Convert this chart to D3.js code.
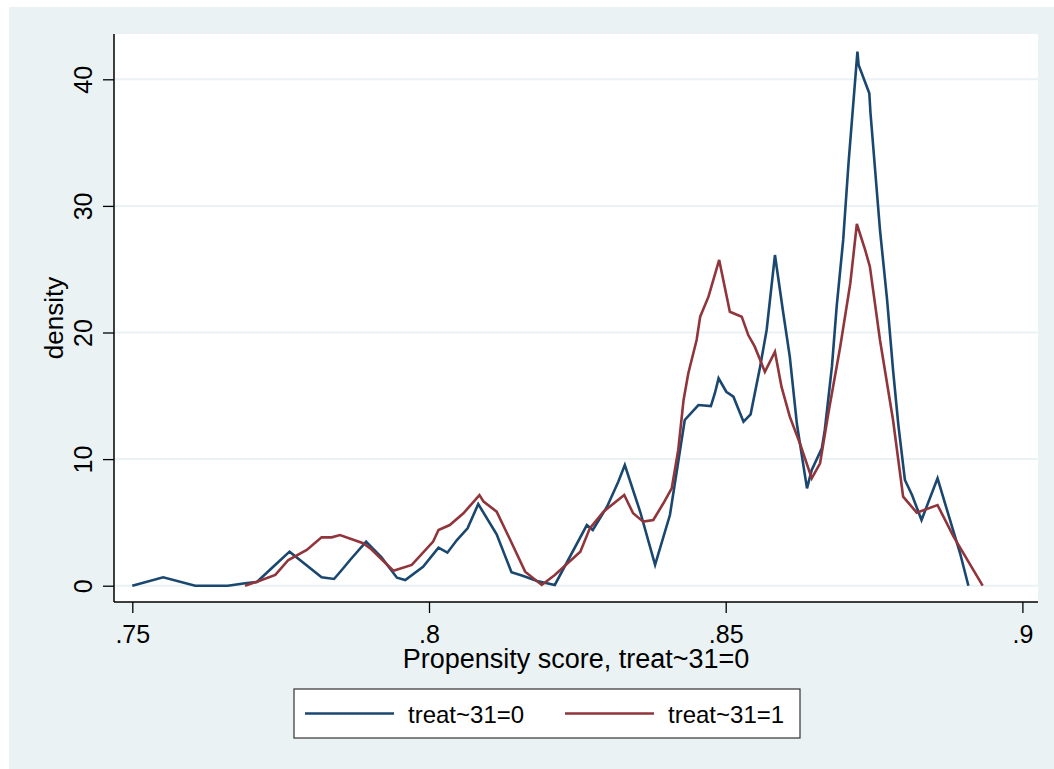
<!DOCTYPE html>
<html>
<head>
<meta charset="utf-8">
<script src="https://cdn.jsdelivr.net/npm/d3@7"></script>
<style>
body { margin: 0; background: #ffffff; }
svg { display: block; font-family: "Liberation Sans", Arial, sans-serif; }
</style>
</head>
<body>
<script>
// data: kernel density of the propensity score
var controlScore = [0.7500, 0.7552, 0.7606, 0.7661, 0.7690, 0.7710, 0.7737, 0.7765, 0.7819, 0.7840,
  0.7853, 0.7867, 0.7894, 0.7920, 0.7946, 0.7960, 0.7990, 0.8016, 0.8031, 0.8047,
  0.8065, 0.8083, 0.8114, 0.8139, 0.8159, 0.8182, 0.8212, 0.8266, 0.8276, 0.8300,
  0.8319, 0.8330, 0.8356, 0.8381, 0.8406, 0.8431, 0.8454, 0.8475, 0.8482, 0.8488,
  0.8501, 0.8513, 0.8530, 0.8542, 0.8558, 0.8569, 0.8583, 0.8597, 0.8608, 0.8620,
  0.8637, 0.8645, 0.8662, 0.8667, 0.8679, 0.8687, 0.8698, 0.8707, 0.8722, 0.8724,
  0.8742, 0.8744, 0.8760, 0.8772, 0.8782, 0.8791, 0.8802, 0.8814, 0.8830, 0.8857,
  0.8878, 0.8895, 0.8909];
var controlDensity = [0, 0.66, 0, 0, 0.19, 0.29, 1.48, 2.69, 0.66, 0.53,
  1.24, 2.03, 3.48, 2.24, 0.63, 0.45, 1.5, 3.0, 2.61, 3.61,
  4.53, 6.45, 4.06, 1.06, 0.77, 0.37, 0.06, 4.79, 4.40, 6.24,
  8.21, 9.53, 5.82, 1.64, 5.58, 13.09, 14.27, 14.19, 15.24, 16.38,
  15.32, 14.93, 12.95, 13.54, 17.30, 20.20, 26.12, 21.54, 18.09, 12.77,
  7.69, 9.14, 10.85, 12.30, 17.30, 22.04, 27.31, 33.39, 42.18, 41.13,
  38.89, 37.34, 28.1, 22.57, 17.04, 12.69, 8.35, 7.16, 5.19, 8.48,
  5.19, 2.56, 0];

var treatedScore = [0.7690, 0.7710, 0.7741, 0.7763, 0.7794, 0.7819, 0.7836, 0.7850, 0.7889, 0.7901,
  0.7940, 0.7971, 0.8007, 0.8016, 0.8035, 0.8058, 0.8085, 0.8092, 0.8114, 0.8137,
  0.8162, 0.8190, 0.8212, 0.8255, 0.8271, 0.8294, 0.8329, 0.8344, 0.8361, 0.8378,
  0.8395, 0.8409, 0.8420, 0.8429, 0.8437, 0.8451, 0.8457, 0.8471, 0.8489, 0.8507,
  0.8527, 0.8538, 0.8549, 0.8566, 0.8583, 0.8594, 0.8608, 0.8625, 0.8645, 0.8659,
  0.8673, 0.8693, 0.8710, 0.8721, 0.8735, 0.8743, 0.8760, 0.8782, 0.8799, 0.8822,
  0.8857, 0.8884, 0.8933];
var treatedDensity = [0, 0.32, 0.85, 2.03, 2.82, 3.82, 3.82, 4.0, 3.35, 2.95,
  1.18, 1.64, 3.48, 4.40, 4.79, 5.72, 7.16, 6.64, 5.85, 3.61,
  1.11, 0.06, 0.85, 2.69, 4.53, 5.85, 7.16, 5.72, 5.06, 5.19,
  6.51, 7.69, 10.72, 14.67, 16.78, 19.41, 21.25, 22.83, 25.73, 21.64,
  21.25, 19.80, 18.88, 16.90, 18.48, 15.72, 13.35, 11.25, 8.48, 9.67,
  13.62, 18.88, 23.89, 28.57, 26.52, 25.20, 19.41, 13.09, 7.03, 5.77,
  6.37, 3.87, 0];

var xTicks = [0.75, 0.8, 0.85, 0.9];
var xTickLabels = [".75", ".8", ".85", ".9"];
var yTicks = [0, 10, 20, 30, 40];
var seriesNames = ["treat~31=0", "treat~31=1"];
var seriesColors = ["#1a476f", "#90353b"];

var width = 1054, height = 769;
var plot = {left: 114, right: 1038, top: 34, bottom: 602};

var svg = d3.select("body").append("svg")
    .attr("width", width)
    .attr("height", height);

// outer graph region
svg.append("rect")
    .attr("x", 9).attr("y", 7)
    .attr("width", width - 9).attr("height", height - 7)
    .attr("fill", "#eaf2f3");

// plot region
svg.append("rect")
    .attr("x", plot.left).attr("y", plot.top)
    .attr("width", plot.right - plot.left).attr("height", plot.bottom - plot.top)
    .attr("fill", "#ffffff");

var x = d3.scaleLinear().domain([0.75, 0.9]).range([132.3, 1022.4]);
var y = d3.scaleLinear().domain([0, 40]).range([585.7, 79.3]);

// grid lines
svg.append("g").selectAll("line")
    .data(yTicks)
    .enter().append("line")
    .attr("x1", plot.left).attr("x2", plot.right)
    .attr("y1", function(d) { return y(d); })
    .attr("y2", function(d) { return y(d); })
    .attr("stroke", "#eaf2f3")
    .attr("stroke-width", 2);

// density curves
var curves = [[controlScore, controlDensity], [treatedScore, treatedDensity]];
var line = d3.line()
    .x(function(d) { return x(d[0]); })
    .y(function(d) { return y(d[1]); });

svg.append("g").selectAll("path")
    .data(curves)
    .enter().append("path")
    .attr("d", function(s) { return line(d3.zip(s[0], s[1])); })
    .attr("fill", "none")
    .attr("stroke", function(d, i) { return seriesColors[i]; })
    .attr("stroke-width", 2.6)
    .attr("stroke-linejoin", "miter");

// y axis
var yAxis = d3.axisLeft(y).tickValues(yTicks).tickSize(11).tickSizeOuter(0).tickPadding(0);
var gy = svg.append("g")
    .attr("transform", "translate(" + plot.left + ",0)")
    .call(yAxis);
gy.select(".domain").attr("d", "M0," + plot.top + "V" + plot.bottom)
    .attr("stroke", "#000").attr("stroke-width", 1.5);
gy.selectAll(".tick line").attr("stroke", "#000").attr("stroke-width", 1.3);
gy.selectAll(".tick text")
    .attr("font-size", 25)
    .attr("fill", "#000")
    .attr("text-anchor", "middle")
    .attr("x", null).attr("dy", null)
    .attr("transform", "translate(-22,0) rotate(-90)");

// x axis
var xAxis = d3.axisBottom(x).tickValues(xTicks)
    .tickFormat(function(d, i) { return xTickLabels[i]; })
    .tickSize(11).tickSizeOuter(0).tickPadding(0);
var gx = svg.append("g")
    .attr("transform", "translate(0," + plot.bottom + ")")
    .call(xAxis);
gx.select(".domain").attr("d", "M" + plot.left + ",0H" + plot.right)
    .attr("stroke", "#000").attr("stroke-width", 1.5);
gx.selectAll(".tick line").attr("stroke", "#000").attr("stroke-width", 1.3);
gx.selectAll(".tick text")
    .attr("font-size", 25)
    .attr("fill", "#000")
    .attr("dy", null)
    .attr("y", 41);

// axis titles
svg.append("text")
    .attr("x", (plot.left + plot.right) / 2).attr("y", 668)
    .attr("text-anchor", "middle")
    .attr("font-size", 27)
    .text("Propensity score, treat~31=0");

svg.append("text")
    .attr("transform", "translate(63," + (plot.top + plot.bottom) / 2 + ") rotate(-90)")
    .attr("text-anchor", "middle")
    .attr("font-size", 26)
    .text("density");

// legend
var legend = svg.append("g");
legend.append("rect")
    .attr("x", 294).attr("y", 689)
    .attr("width", 506).attr("height", 49)
    .attr("fill", "#ffffff")
    .attr("stroke", "#333")
    .attr("stroke-width", 1.2);

var items = legend.selectAll("g.item")
    .data(seriesNames)
    .enter().append("g")
    .attr("class", "item")
    .attr("transform", function(d, i) { return "translate(" + (305 + i * 260) + ",0)"; });

items.append("line")
    .attr("x1", 0).attr("x2", 89)
    .attr("y1", 713.5).attr("y2", 713.5)
    .attr("stroke", function(d, i) { return seriesColors[i]; })
    .attr("stroke-width", 2.6);

items.append("text")
    .attr("x", 103).attr("y", 722.5)
    .attr("font-size", 24)
    .text(function(d) { return d; });
</script>
</body>
</html>
